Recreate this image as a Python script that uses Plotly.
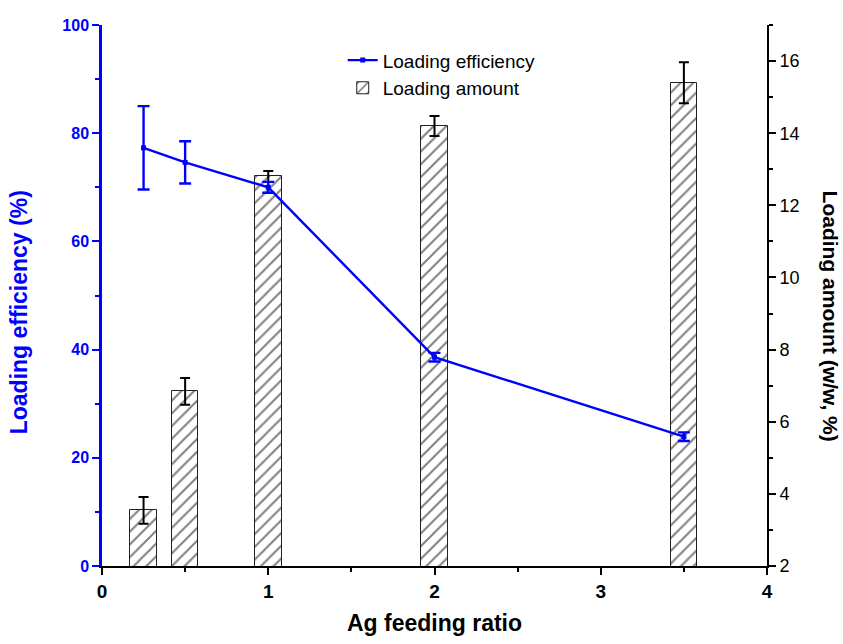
import plotly.graph_objects as go

ratio = [0.25, 0.5, 1, 2, 3.5]
efficiency = [77.3, 74.6, 70.0, 38.6, 23.9]
efficiency_err = [7.7, 3.9, 1.0, 0.8, 0.8]
amount = [3.54, 6.84, 12.8, 14.2, 15.4]
amount_err = [0.37, 0.37, 0.15, 0.28, 0.57]

FONT = "Liberation Sans, Arial, sans-serif"
BLUE = "#0000ff"

fig = go.Figure()

fig.add_trace(go.Bar(
    x=ratio, y=amount, width=0.16, name="Loading amount", yaxis="y", xaxis="x",
    marker=dict(color="white", line=dict(color="#222222", width=1),
                pattern=dict(shape="/", fgcolor="black", bgcolor="white", size=9, solidity=0.22)),
    error_y=dict(type="data", array=amount_err, color="black", thickness=2, width=5),
))

fig.add_trace(go.Scatter(
    x=ratio, y=efficiency, name="Loading efficiency", yaxis="y2", xaxis="x",
    mode="lines+markers",
    line=dict(color=BLUE, width=2.4),
    marker=dict(symbol="square", size=5, color=BLUE),
    error_y=dict(type="data", array=efficiency_err, color=BLUE, thickness=2.4, width=6),
))

fig.update_layout(
    width=843, height=644,
    margin=dict(l=102, r=76, t=25, b=78),
    plot_bgcolor="white", paper_bgcolor="white",
    font=dict(family=FONT, size=16, color="black"),
    showlegend=True,
    legend=dict(x=0.362, y=0.97, xanchor="left", yanchor="top", traceorder="reversed",
                bgcolor="rgba(0,0,0,0)", font=dict(size=19, color="black"),
                itemwidth=30, tracegroupgap=0),
    bargap=0,
    xaxis=dict(range=[0, 4], tickvals=[0, 1, 2, 3, 4], ticks="outside", ticklen=7, tickwidth=2,
               tickcolor="black", showline=True, linecolor="black", linewidth=2,
               minor=dict(dtick=0.5, ticks="outside", ticklen=4, tickwidth=2, tickcolor="black"),
               showgrid=False, zeroline=False,
               tickfont=dict(size=19, color="black", family=FONT, weight="bold"),
               title=dict(text="<b>Ag feeding ratio</b>", font=dict(size=23, color="black"), standoff=14)),
    xaxis2=dict(range=[0, 4], overlaying="x", side="top", tickvals=[0, 1, 2, 3, 4], ticks="inside",
                ticklen=7, tickwidth=2, tickcolor="black", showline=True, linecolor="black", linewidth=2,
                minor=dict(dtick=0.5, ticks="inside", ticklen=4, tickwidth=2, tickcolor="black"),
                showticklabels=False, showgrid=False, zeroline=False),
    yaxis=dict(side="right", range=[2, 17], tickvals=[2, 4, 6, 8, 10, 12, 14, 16], ticks="outside",
               ticklen=7, tickwidth=2, tickcolor="black", showline=True, linecolor="black", linewidth=2,
               minor=dict(dtick=1, ticks="outside", ticklen=4, tickwidth=2, tickcolor="black"),
               showgrid=False, zeroline=False,
               tickfont=dict(size=18, color="black", family=FONT)),
    yaxis2=dict(side="left", overlaying="y", range=[0, 100], tickvals=[0, 20, 40, 60, 80, 100],
                ticks="outside", ticklen=7, tickwidth=2, tickcolor=BLUE, showline=True,
                linecolor=BLUE, linewidth=2.5,
                minor=dict(dtick=10, ticks="outside", ticklen=4, tickwidth=2, tickcolor=BLUE),
                showgrid=False, zeroline=False,
                tickfont=dict(size=16, color=BLUE, family=FONT, weight="bold")),
    annotations=[
        dict(text="<b>Loading efficiency (%)</b>", xref="paper", yref="paper",
             x=0.0, y=0.469, xanchor="right", yanchor="middle", xshift=-68,
             textangle=-90, showarrow=False, font=dict(size=23, color=BLUE, family=FONT)),
        dict(text="<b>Loading amount (w/w, %)</b>", xref="paper", yref="paper",
             x=1.0, y=0.462, xanchor="left", yanchor="middle", xshift=50,
             textangle=90, showarrow=False, font=dict(size=21, color="black", family=FONT)),
    ],
)

fig.write_html("out.html")
